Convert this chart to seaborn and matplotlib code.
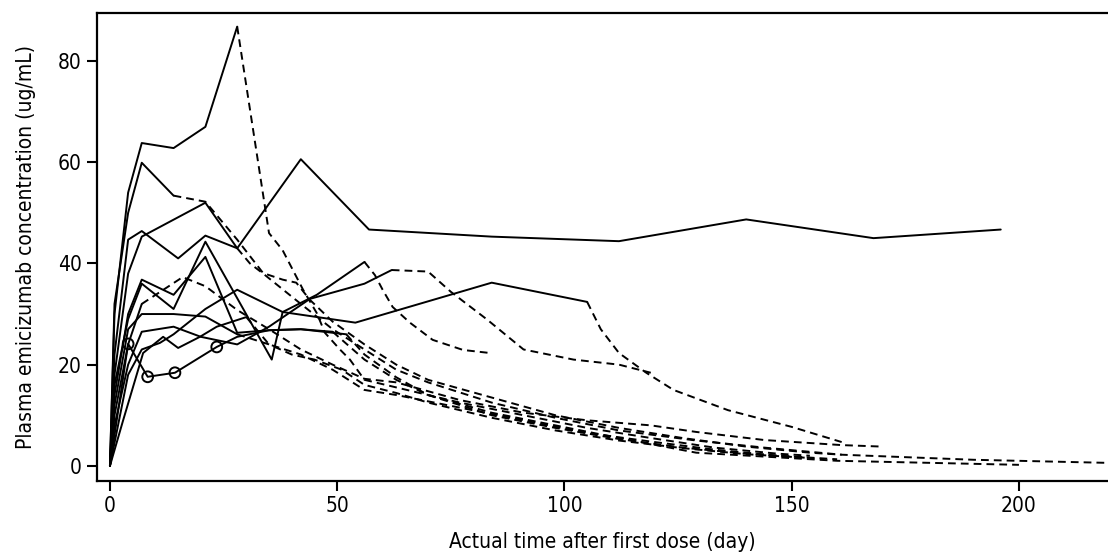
import numpy as np
import pandas as pd
import matplotlib
matplotlib.use("Agg")
import matplotlib.pyplot as plt
import seaborn as sns

# individual profiles: time (day), concentration (ug/mL), last time of the dosing (solid) phase
s1_t = [0, 1, 4, 7, 14, 21, 28, 35, 38, 42.5, 45.5, 47.3, 50.6, 52.8, 56, 63, 77, 91, 105, 119, 133, 147, 154]
s1_c = [0, 30, 54, 63.8, 62.8, 67, 86.8, 46, 42.6, 34.8, 30.2, 26.3, 23, 21, 17, 15.5, 12.5, 10, 7.5, 5.5, 3.6, 2.4, 2.0]
s1_end = 28

s2_t = [0, 1, 4, 7, 14, 21, 28, 33.7, 38, 41, 44, 49, 56, 63, 70, 84, 98, 112, 126, 140, 154, 161]
s2_c = [0, 32, 50, 59.9, 53.4, 52.2, 44.7, 38.1, 36.8, 36.2, 32.8, 28.5, 24, 20, 17, 13.5, 10, 7.5, 5.5, 3.8, 2.6, 2.2]
s2_end = 14

s3_t = [0, 1, 4, 7, 21, 28, 42, 57, 84, 112, 140, 168, 196]
s3_c = [0, 18, 38, 45.3, 52, 43, 60.6, 46.7, 45.3, 44.4, 48.7, 45, 46.7]
s3_end = 196

s4_t = [0, 1, 4, 7, 15, 21, 28, 30.8, 33.7, 42, 49, 56, 63, 70, 84, 98, 112, 129, 144, 161, 190, 219]
s4_c = [0, 22, 44.7, 46.4, 41, 45.5, 43, 40, 38, 32, 27, 23, 19, 16.5, 12.5, 9.5, 7, 5, 3.6, 2.2, 1.2, 0.6]
s4_end = 28

s5_t = [0, 1, 4, 7, 14, 21, 28, 35, 42, 49, 56, 63, 70, 84, 98, 112, 129, 160, 200]
s5_c = [0, 14, 30, 36.8, 33.8, 41.3, 26.3, 26.8, 27, 26.5, 21, 17, 14, 10.5, 8, 5.5, 2.6, 1.0, 0.2]
s5_end = 49

s6_t = [0, 1, 4, 7, 14, 21, 35.6, 38, 45.5, 56, 58.3, 60, 62.2, 66, 71, 77.7, 83.6]
s6_c = [0, 16, 29, 36, 31, 44.3, 21, 30.4, 33.8, 40.3, 37.7, 34.8, 31.4, 28.3, 24.9, 22.9, 22.3]
s6_end = 56

s7_t = [0, 2, 4, 7, 11, 14, 21, 28, 38, 54, 84, 105, 108, 112, 118, 124, 136, 150, 161]
s7_c = [0, 9, 18, 23, 24.3, 26, 31, 34.8, 30.4, 28.3, 36.2, 32.4, 27, 22.3, 18.4, 15, 11, 7.7, 4.7]
s7_end = 105

s8_t = [0, 4, 8.3, 14.3, 23.5, 28, 35, 42, 52, 56, 63, 70, 84, 98, 112, 126, 140, 160]
s8_c = [0, 24.1, 17.6, 18.4, 23.5, 25.5, 26.8, 27, 26, 22, 17.5, 14, 10, 7.5, 5.3, 3.6, 2.4, 1.3]
s8_end = 52
s8_circle_t = [4, 8.3, 14.3, 23.5]
s8_circle_c = [24.1, 17.6, 18.4, 23.5]

s9_t = [0, 2.9, 7.3, 11.7, 15, 19.8, 23.5, 30, 35, 42, 49, 56, 63, 77, 91, 105, 119, 133, 147, 154]
s9_c = [0, 9, 22.3, 25.5, 23.3, 25.5, 27.5, 29.4, 24, 22, 19, 15, 14, 11.5, 9, 6.5, 4.8, 3.2, 2.0, 1.6]
s9_end = 30

s10_t = [0, 1, 4, 7, 14, 20, 28, 35, 44, 56, 62, 70, 75, 83, 91, 102, 112, 119]
s10_c = [0, 8, 20, 26.5, 27.5, 25.5, 24, 27.5, 33, 36, 38.7, 38.4, 34.4, 28.9, 23, 21, 20, 18.4]
s10_end = 62

s11_t = [0, 1, 4, 7, 16, 21, 28, 35, 42, 49, 56, 63, 77, 91, 105, 119, 129, 144, 161, 170]
s11_c = [0, 10, 24, 32, 37.3, 35.5, 30.8, 27, 23, 20, 17.2, 16.5, 13, 10.5, 9, 8, 6.7, 5.1, 4.1, 3.8]
s11_end = 7

s12_t = [0, 1, 4, 7, 14, 21, 28, 35, 40, 45, 51, 56, 63, 70, 84, 98, 112, 126, 140, 155]
s12_c = [0, 12, 27, 30, 30, 29.5, 26, 24, 22, 21, 19, 16, 14.4, 12.5, 9.5, 7, 5, 3.5, 2.3, 1.5]
s12_end = 28

subjects = [
    (s1_t, s1_c, s1_end), (s2_t, s2_c, s2_end), (s3_t, s3_c, s3_end),
    (s4_t, s4_c, s4_end), (s5_t, s5_c, s5_end), (s6_t, s6_c, s6_end),
    (s7_t, s7_c, s7_end), (s8_t, s8_c, s8_end), (s9_t, s9_c, s9_end),
    (s10_t, s10_c, s10_end), (s11_t, s11_c, s11_end), (s12_t, s12_c, s12_end),
]

# split each profile into a solid part (dosing) and a dashed part (after last dose)
rows = []
for i, (t, c, t_end) in enumerate(subjects):
    for tt, cc in zip(t, c):
        if tt <= t_end:
            rows.append((f"{i}a", "dosing", tt, cc))
        if tt >= t_end:
            rows.append((f"{i}b", "washout", tt, cc))
df = pd.DataFrame(rows, columns=["seg", "phase", "time", "conc"])
df = df[df.groupby("seg")["seg"].transform("size") > 1]

sns.set_style("ticks", {"axes.edgecolor": "black", "text.color": "black",
                        "axes.labelcolor": "black", "xtick.color": "black",
                        "ytick.color": "black"})
plt.rcParams["font.family"] = ["DejaVu Sans"]
plt.rcParams["font.stretch"] = "condensed"

fig = plt.figure(figsize=(11.08, 5.57), dpi=100)
ax = fig.add_axes([0.0875, 0.1364, 0.9125, 0.8403])

sns.lineplot(data=df, x="time", y="conc", units="seg", style="phase",
             estimator=None, sort=False, color="black", linewidth=1.4,
             dashes={"dosing": "", "washout": (4, 2.6)}, legend=False, ax=ax)
sns.scatterplot(x=s8_circle_t, y=s8_circle_c, marker="o", s=60,
                facecolor="none", edgecolor="black", linewidth=1.4, ax=ax)

ax.set_xlim(-2.86, 219.6)
ax.set_ylim(-3, 89.5)
ax.set_xticks([0, 50, 100, 150, 200])
ax.set_yticks([0, 20, 40, 60, 80])
ax.spines["right"].set_visible(False)
for s in ["left", "bottom", "top"]:
    ax.spines[s].set_linewidth(1.6)
ax.tick_params(axis="both", length=7, width=1.5, labelsize=15, pad=4)
ax.set_xlabel("Actual time after first dose (day)", fontsize=15, labelpad=11)
ax.set_ylabel("Plasma emicizumab concentration (ug/mL)", fontsize=15, labelpad=16)

fig.savefig("out.png", dpi=100)
